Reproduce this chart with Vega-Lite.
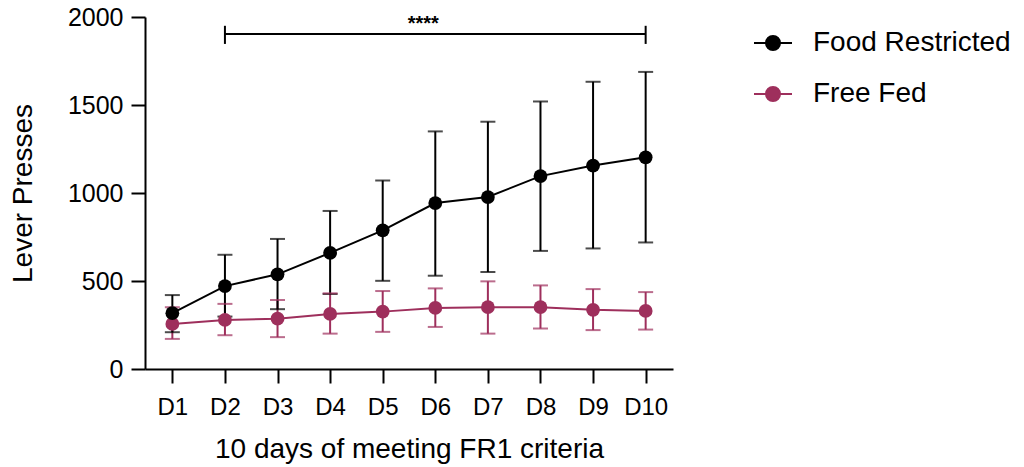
{
  "$schema": "https://vega.github.io/schema/vega-lite/v6.json",
  "autosize": "none",
  "width": 528,
  "height": 352,
  "padding": {"left": 145, "top": 17, "right": 351, "bottom": 98},
  "background": "white",
  "config": {
    "font": "Liberation Sans",
    "view": {"stroke": null},
    "axis": {
      "domainColor": "black", "domainWidth": 2, "tickColor": "black", "tickWidth": 2,
      "labelColor": "black", "titleColor": "black", "grid": false,
      "labelFont": "Liberation Sans", "titleFont": "Liberation Sans",
      "labelFontSize": 24, "titleFontSize": 28, "titleFontWeight": "normal", "tickSize": 14
    }
  },
  "datasets": {
    "main": [
      {"day": "D1", "group": "Free Fed", "mean": 256, "lo": 171, "hi": 351},
      {"day": "D2", "group": "Free Fed", "mean": 279, "lo": 192, "hi": 370},
      {"day": "D3", "group": "Free Fed", "mean": 286, "lo": 181, "hi": 392},
      {"day": "D4", "group": "Free Fed", "mean": 313, "lo": 201, "hi": 430},
      {"day": "D5", "group": "Free Fed", "mean": 326, "lo": 211, "hi": 443},
      {"day": "D6", "group": "Free Fed", "mean": 347, "lo": 239, "hi": 458},
      {"day": "D7", "group": "Free Fed", "mean": 351, "lo": 201, "hi": 498},
      {"day": "D8", "group": "Free Fed", "mean": 351, "lo": 230, "hi": 475},
      {"day": "D9", "group": "Free Fed", "mean": 336, "lo": 221, "hi": 454},
      {"day": "D10", "group": "Free Fed", "mean": 330, "lo": 224, "hi": 437},
      {"day": "D1", "group": "Food Restricted", "mean": 317, "lo": 209, "hi": 420},
      {"day": "D2", "group": "Food Restricted", "mean": 471, "lo": 298, "hi": 649},
      {"day": "D3", "group": "Food Restricted", "mean": 538, "lo": 340, "hi": 739},
      {"day": "D4", "group": "Food Restricted", "mean": 660, "lo": 426, "hi": 898},
      {"day": "D5", "group": "Food Restricted", "mean": 788, "lo": 501, "hi": 1071},
      {"day": "D6", "group": "Food Restricted", "mean": 943, "lo": 530, "hi": 1350},
      {"day": "D7", "group": "Food Restricted", "mean": 977, "lo": 551, "hi": 1405},
      {"day": "D8", "group": "Food Restricted", "mean": 1096, "lo": 671, "hi": 1520},
      {"day": "D9", "group": "Food Restricted", "mean": 1156, "lo": 685, "hi": 1632},
      {"day": "D10", "group": "Food Restricted", "mean": 1203, "lo": 719, "hi": 1688}
    ],
    "sig": [
      {"from": "D2", "to": "D10", "y": 1903, "capLo": 1847, "capHi": 1950, "label": "****", "labelDay": "D6", "labelY": 1925}
    ]
  },
  "layer": [
    {
      "data": {"name": "main"},
      "encoding": {
        "x": {
          "field": "day", "type": "ordinal",
          "scale": {"type": "point", "padding": 0.52, "domain": ["D1","D2","D3","D4","D5","D6","D7","D8","D9","D10"]},
          "axis": {"title": "10 days of meeting FR1 criteria", "labelAngle": 0, "labelPadding": 12, "titleY": 80, "titleBaseline": "middle"}
        },
        "color": {
          "field": "group", "type": "nominal",
          "scale": {"domain": ["Food Restricted", "Free Fed"], "range": ["#000000", "#9e2f5c"]},
          "legend": {
            "title": null, "orient": "none", "legendX": 608, "legendY": 6,
            "symbolType": "M-1,0H1M-0.37,0A0.37,0.37 0 1,0 0.37,0A0.37,0.37 0 1,0 -0.37,0Z",
            "symbolSize": 1444, "symbolStrokeWidth": 2, "labelFontSize": 28, "labelFont": "Liberation Sans",
            "labelColor": "black", "labelOffset": 20, "rowPadding": 17, "symbolOpacity": 1, "labelLimit": 0,
            "encode": {"symbols": {"update": {"fill": {"scale": "color", "field": "value"}, "stroke": {"scale": "color", "field": "value"}}}}
          }
        }
      },
      "layer": [
        {
          "mark": {"type": "rule", "strokeWidth": 2},
          "encoding": {
            "y": {"field": "lo", "type": "quantitative"},
            "y2": {"field": "hi"}
          }
        },
        {
          "mark": {"type": "tick", "orient": "horizontal", "size": 15, "thickness": 2},
          "encoding": {"y": {"field": "lo", "type": "quantitative"}}
        },
        {
          "mark": {"type": "tick", "orient": "horizontal", "size": 15, "thickness": 2},
          "encoding": {"y": {"field": "hi", "type": "quantitative"}}
        },
        {
          "mark": {"type": "line", "strokeWidth": 2},
          "encoding": {
            "y": {"field": "mean", "type": "quantitative"}
          }
        },
        {
          "mark": {"type": "point", "filled": true, "size": 190, "opacity": 1},
          "encoding": {
            "y": {
              "field": "mean", "type": "quantitative",
              "scale": {"domain": [0, 2000], "nice": false},
              "axis": {"title": "Lever Presses", "values": [0, 500, 1000, 1500, 2000], "format": "d", "labelFontSize": 25, "labelPadding": 8, "titleX": -122, "titleBaseline": "middle"}
            }
          }
        }
      ]
    },
    {
      "data": {"name": "sig"},
      "layer": [
        {
          "mark": {"type": "rule", "strokeWidth": 2, "color": "black"},
          "encoding": {
            "x": {"field": "from", "type": "ordinal"},
            "x2": {"field": "to"},
            "y": {"field": "y", "type": "quantitative"}
          }
        },
        {
          "mark": {"type": "rule", "strokeWidth": 2, "color": "black"},
          "encoding": {
            "x": {"field": "from", "type": "ordinal"},
            "y": {"field": "capLo", "type": "quantitative"},
            "y2": {"field": "capHi"}
          }
        },
        {
          "mark": {"type": "rule", "strokeWidth": 2, "color": "black"},
          "encoding": {
            "x": {"field": "to", "type": "ordinal"},
            "y": {"field": "capLo", "type": "quantitative"},
            "y2": {"field": "capHi"}
          }
        },
        {
          "mark": {"type": "text", "fontSize": 20, "font": "Liberation Sans", "fontWeight": "bold", "color": "black", "dx": -12, "baseline": "alphabetic"},
          "encoding": {
            "x": {"field": "labelDay", "type": "ordinal"},
            "y": {"field": "labelY", "type": "quantitative"},
            "text": {"field": "label"}
          }
        }
      ]
    }
  ]
}
